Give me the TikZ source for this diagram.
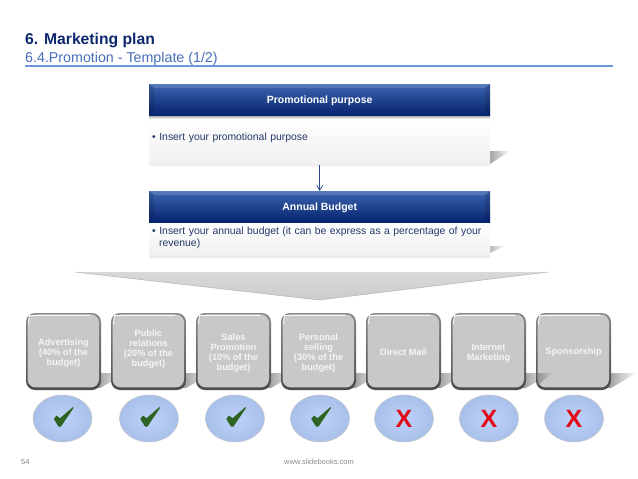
\documentclass[tikz,border=0pt]{standalone}
\usepackage{fontspec}
\setmainfont{Liberation Sans}
\usetikzlibrary{shapes.geometric,shadings,fadings,arrows.meta}
\definecolor{navy}{RGB}{12,40,110}
\definecolor{subblue}{RGB}{70,110,185}
\definecolor{rulec}{RGB}{110,150,220}
\definecolor{hdtop}{RGB}{60,100,175}
\definecolor{hdmid}{RGB}{12,50,130}
\definecolor{hdbot}{RGB}{5,35,110}
\definecolor{bodytext}{RGB}{35,55,105}
\definecolor{arrowc}{RGB}{40,70,140}
\definecolor{greybox}{RGB}{200,200,200}
\definecolor{boxtop}{RGB}{135,135,135}
\definecolor{boxbot}{RGB}{75,75,75}
\definecolor{ballin}{RGB}{190,210,248}
\definecolor{ballout}{RGB}{168,192,234}
\definecolor{checkc}{RGB}{45,100,35}
\definecolor{xred}{RGB}{225,10,25}
\tikzset{
 x=1pt,y=-1pt,
 header/.style={minimum width=341pt,minimum height=31pt,inner sep=0pt,top color=hdtop,middle color=hdmid,bottom color=hdbot},
 headtxt/.style={text=white,font=\fontsize{10.5}{12}\selectfont\bfseries},
 bodypanel/.style={minimum width=341pt,inner sep=0pt,top color=white,bottom color=black!6},
 bodytxt/.style={text=bodytext,font=\fontsize{10.4}{12.7}\selectfont,align=left,text width=335pt,inner sep=0pt,anchor=north west},
 greyb/.style={rounded corners=9pt,minimum width=75pt,minimum height=77pt,inner sep=0pt,top color=boxtop,bottom color=boxbot,
   path picture={
     \fill[greybox,rounded corners=8pt] ([shift={(1.6,1.4)}]path picture bounding box.north west) rectangle ([shift={(-2,-2.6)}]path picture bounding box.south east);
     \draw[white!85!greybox,line width=.9pt,line cap=round] ([shift={(2.6,11)}]path picture bounding box.north west) .. controls ([shift={(2.6,3)}]path picture bounding box.north west) and ([shift={(5,2.6)}]path picture bounding box.north west) .. ([shift={(11,2.4)}]path picture bounding box.north west) -- ([shift={(-11,2.4)}]path picture bounding box.north east);
   }},
 boxtxt/.style={inner sep=0pt,text=white!96!black,align=center,font=\fontsize{9.2}{10}\selectfont\bfseries},
 ball/.style={ellipse,minimum width=59pt,minimum height=47pt,inner sep=0pt,draw=white!55!gray,line width=.5pt,inner color=ballin,outer color=ballout},
 boxshadow/.style={fill=black!38,path fading=east},
}
\begin{document}
\begin{tikzpicture}
\useasboundingbox[fill=white] (0,0) rectangle (638,479);
% title
\node[anchor=base west,inner sep=0pt,text=navy,font=\fontsize{15.7}{18}\selectfont\bfseries] (title) at (25,44) {6. Marketing plan};
\node[anchor=base west,inner sep=0pt,text=subblue,font=\fontsize{14.25}{16}\selectfont] (subtitle) at (25,62) {6.4.Promotion - Template (1/2)};
\fill[rulec] (25,65) rectangle (613,67);
% panel shadows
\fill[black!36,path fading=east] (490,164) -- (490,151) -- (510,151) -- cycle;
\fill[black!28,path fading=east] (490,253) -- (490,246) -- (505,246) -- cycle;
\shade[top color=black!40,bottom color=white] (149,115) rectangle (490,119);
% panels
\node[bodypanel,minimum height=46pt,anchor=north west] (purposebody) at (149,119) {};
\node[bodypanel,minimum height=34pt,anchor=north west] (budgetbody) at (149,222) {};
\shade[top color=black!9,bottom color=white] (149,256) rectangle (490,259);
\shade[top color=black!6,bottom color=white] (149,165) rectangle (490,167);
\node[header,anchor=north west] (purpose) at (149,84) {};
\node[header,anchor=north west] (budget) at (149,191) {};
\fill[white,opacity=.15] (149,84) -- (490,84) -- (485,88) -- (154,88) -- cycle;
\fill[white,opacity=.15] (149,191) -- (490,191) -- (485,195) -- (154,195) -- cycle;
\fill[black,opacity=.12] (149,84) -- (154,88) -- (154,111) -- (149,115) -- cycle;
\fill[black,opacity=.12] (490,84) -- (485,88) -- (485,111) -- (490,115) -- cycle;
\fill[black,opacity=.12] (149,191) -- (154,195) -- (154,218) -- (149,222) -- cycle;
\fill[black,opacity=.12] (490,191) -- (485,195) -- (485,218) -- (490,222) -- cycle;
\node[headtxt,yshift=-.8pt] (purposelabel) at (purpose) {Promotional purpose};
\node[headtxt,yshift=-1.3pt] (budgetlabel) at (budget) {Annual Budget};
\node[bodytxt] (purposetext) at (152,133) {•\hspace{3.5pt}Insert your promotional purpose};
\node[bodytxt] (budgettext) at (152,226.5) {•\hspace{3.5pt}Insert your annual budget (it can be express as a percentage of your\\\hspace{7pt}revenue)};
% connector
\draw[arrowc,line width=.7pt,-{Straight Barb[length=5pt,width=6pt]}] (purposebody.south) -- (budget.north);
% big arrow
\shade[top color=black!15,bottom color=black!20] (75,272) -- (548,272) -- (319,300) -- cycle;
\draw[black!30,line width=.5pt] (75,272) -- (319,300) -- (548,272);
% box shadows
\foreach \sx in {100,186,271,356,441,526,611}{
  \fill[boxshadow] (\sx-3,373) -- (\sx+26,373) -- (\sx,388) -- (\sx-3,388) -- cycle;
}
% grey boxes
\foreach \n/\cx in {1/63.5,2/148.5,3/233.5,4/318.5,5/403.5,6/488.5,7/573.5}{
  \node[greyb] (b\n) at (\cx,351.5) {};
}
\fill[black!50,opacity=.7,path fading=east] (538,373) -- (553,373) -- (538,385) -- cycle;
\node[boxtxt,yshift=-2pt] (t1) at (b1) {Advertising\\(40\% of the\\budget)};
\node[boxtxt,yshift=2.5pt] (t2) at (b2) {Public\\relations\\(20\% of the\\budget)};
\node[boxtxt,yshift=-1.5pt] (t3) at (b3) {Sales\\Promotion\\(10\% of the\\budget)};
\node[boxtxt,yshift=-1.5pt] (t4) at (b4) {Personal\\selling\\(30\% of the\\budget)};
\node[boxtxt,yshift=-1pt] (t5) at (b5) {Direct Mail};
\node[boxtxt,yshift=-1.5pt] (t6) at (b6) {Internet\\Marketing};
\node[boxtxt,yshift=-1pt] (t7) at (b7) {Sponsorship};
% balls
\foreach \n/\cx in {1/62.5,2/149,3/235,4/320,5/404,6/489,7/574}{
  \node[ball] (c\n) at (\cx,418.5) {};
}
\foreach \n in {1,2,3,4}{
  \fill[checkc,shift={(c\n.center)}] (-8.7,0.5) -- (-6,-3) -- (-2.5,-.3) -- (10.5,-11.5) -- (11,-10.5) -- (-1.5,8) -- (-4,8) -- cycle;
}
\foreach \n in {5,6,7}{
  \node[text=xred,font=\fontsize{25}{25}\selectfont\bfseries,inner sep=0pt] (x\n) at (c\n) {X};
}
% footer
\node[anchor=base west,inner sep=0pt,text=black!50,font=\fontsize{7.5}{9}\selectfont] (pg) at (21,464) {54};
\node[anchor=base,inner sep=0pt,text=black!45,font=\fontsize{7.5}{9}\selectfont] (url) at (319,464) {www.slidebooks.com};
\end{tikzpicture}
\end{document}
